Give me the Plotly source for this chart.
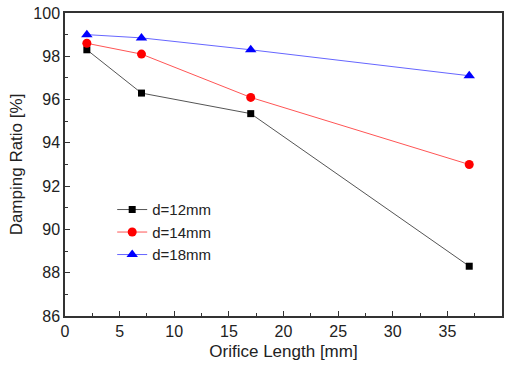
import plotly.graph_objects as go

x_vals = [2, 7, 17, 37]
d12 = [98.3, 96.3, 95.35, 88.3]
d14 = [98.6, 98.1, 96.1, 93.0]
d18 = [99.0, 98.85, 98.3, 97.1]
names = ["d=12mm", "d=14mm", "d=18mm"]

FONT = "Liberation Sans, Arial"

fig = go.Figure()
styles = [("black", "#555555", "square", 7), ("red", "#ff5555", "circle", 9), ("blue", "#6666ff", "triangle-up", 10)]
for ys, name, (mc, lc, sym, sz) in zip([d12, d14, d18], names, styles):
    fig.add_trace(go.Scatter(
        x=x_vals, y=ys, name=name, mode="lines+markers",
        line=dict(color=lc, width=1),
        marker=dict(color=mc, symbol=sym, size=sz),
    ))

axis_common = dict(
    showgrid=False, zeroline=False, showline=True, linecolor="#333333", linewidth=1.5,
    mirror=True, ticks="inside", ticklen=5, tickcolor="#333333", tickwidth=1.2,
    tickfont=dict(family=FONT, size=16, color="#222222"), automargin=False,
)
fig.update_layout(
    width=510, height=365,
    margin=dict(l=65, r=8, t=13, b=49),
    paper_bgcolor="white", plot_bgcolor="white",
    xaxis=dict(range=[0, 40], dtick=5, minor=dict(dtick=2.5, ticks="inside", ticklen=3, tickcolor="#333333"),
               title=dict(text="Orifice Length [mm]", font=dict(family=FONT, size=17, color="#222222"), standoff=6),
               **axis_common),
    yaxis=dict(range=[86, 100], dtick=2, minor=dict(dtick=1, ticks="inside", ticklen=3, tickcolor="#333333"),
               title=dict(text="Damping Ratio [%]", font=dict(family=FONT, size=17, color="#222222"), standoff=6),
               **axis_common),
    legend=dict(x=0.108, y=0.405, xanchor="left", yanchor="top", bgcolor="rgba(0,0,0,0)",
                font=dict(family=FONT, size=15, color="#222222"),
                tracegroupgap=0),
    showlegend=True,
)
fig.write_html("out.html", config={"displayModeBar": False},
               post_script="document.body.style.margin='0';")
